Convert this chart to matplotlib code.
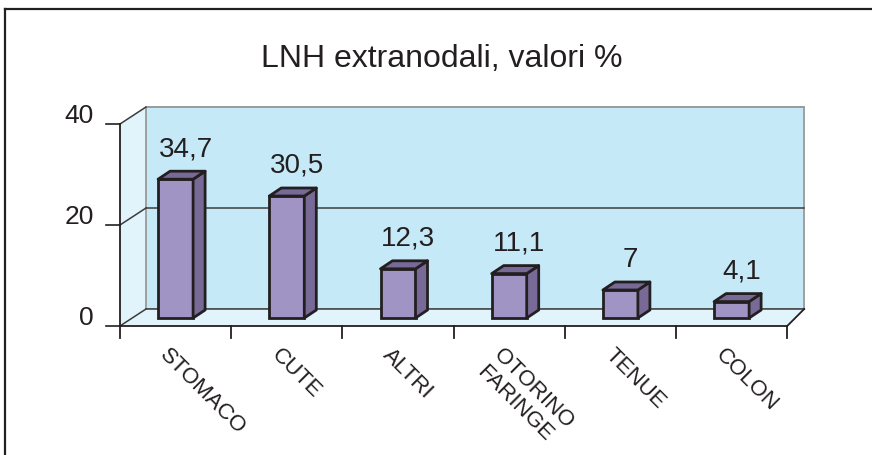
import matplotlib
matplotlib.use("Agg")
import matplotlib.pyplot as plt
from matplotlib.patches import Polygon
import numpy as np

# --- data ---
categories = ["STOMACO", "CUTE", "ALTRI", "OTORINO\nFARINGE", "TENUE", "COLON"]
values = [34.7, 30.5, 12.3, 11.1, 7, 4.1]
value_labels = ["34,7", "30,5", "12,3", "11,1", "7", "4,1"]
tick_labels = ["0", "20", "40"]
title = "LNH extranodali, valori %"

# --- layout (pixels of the 872x455 picture) ---
W, H = 872, 455
PX_X = 111.2          # px per category
PX_Y = 4.0            # px per value unit
X0_PX, Y0_PX = 120, 326   # front-left-bottom corner of the plot box
WALL_TOP = 50.5       # wall height in value units

def px_x(p):
    return p / PX_X

def px_y(p):
    return p / PX_Y

ink = "#231f20"
bar_front = "#a094c4"
bar_side = "#786a96"
back_col = "#c6e9f8"
pale_col = "#e1f3fb"

plt.rcParams["font.family"] = ["Liberation Sans", "DejaVu Sans"]

fig = plt.figure(figsize=(W / 100, H / 100), dpi=100)
ax = fig.add_axes([0, 0, 1, 1])
ax.set_xlim(-0.5 - px_x(X0_PX), -0.5 + px_x(W - X0_PX))
ax.set_ylim(-px_y(H - Y0_PX), px_y(Y0_PX))
ax.axis("off")

n = len(categories)
xl, xr = -0.5, n - 0.5
bl = xl + px_x(26)       # back wall left
br = xr + px_x(17)       # back wall right
dz = px_y(17)            # wall depth (vertical shift)

# walls and floor
ax.add_patch(Polygon([(xl, 0), (xl, WALL_TOP), (bl, WALL_TOP + dz), (bl, dz)],
                     closed=True, fc=pale_col, ec="none", zorder=1))
ax.add_patch(Polygon([(bl, dz), (bl, WALL_TOP + dz), (br, WALL_TOP + dz), (br, dz)],
                     closed=True, fc=back_col, ec="#9a9a9a", lw=1.3, zorder=1))
ax.add_patch(Polygon([(xl, 0), (xr, 0), (br, dz), (bl, dz)],
                     closed=True, fc=pale_col, ec="none", zorder=1))

# gridlines on the walls
ytick_pos = np.linspace(0, WALL_TOP, len(tick_labels))
for k, t in enumerate(ytick_pos):
    col = "#9a9a9a" if k == len(ytick_pos) - 1 else "#3c3c3c"
    ax.plot([bl, br], [t + dz, t + dz], color=col, lw=1.1, zorder=2)
    ax.plot([xl, bl], [t, t + dz], color="#3c3c3c", lw=1.1, zorder=2)
    ax.plot([xl - px_x(14), xl], [t, t], color=ink, lw=1.2, zorder=3)
    ax.text(xl - px_x(26), t + px_y(8), tick_labels[k], ha="right", va="center",
            fontsize=19, color=ink)

# front axes lines
ax.plot([xl, xl], [0, WALL_TOP], color=ink, lw=1.3, zorder=3)
ax.plot([xl, xr], [0, 0], color=ink, lw=1.3, zorder=3)
ax.plot([xr, br], [0, dz], color=ink, lw=1.3, zorder=3)
for k in range(n + 1):
    ax.plot([xl + k, xl + k], [0, -px_y(12)], color=ink, lw=1.3, zorder=3)

# bars
x = np.arange(n)
bw = px_x(35)
base = px_y(8)
sdx, sdy = px_x(12), px_y(8)
ax.bar(x, values, width=bw, bottom=base, color=bar_front, edgecolor=ink,
       linewidth=2, zorder=4)
for xi, v in zip(x, values):
    r, l, top = xi + bw / 2, xi - bw / 2, base + v
    ax.add_patch(Polygon([(r, base), (r, top), (r + sdx, top + sdy), (r + sdx, base + sdy)],
                         closed=True, fc=bar_side, ec=ink, lw=2, joinstyle="round", zorder=4))
    ax.add_patch(Polygon([(l, top), (r, top), (r + sdx, top + sdy), (l + sdx, top + sdy)],
                         closed=True, fc=bar_side, ec=ink, lw=2, joinstyle="round", zorder=4))

# value labels
for xi, v, lab in zip(x, values, value_labels):
    ax.text(xi + px_x(10), base + v + sdy + px_y(15), lab, ha="center",
            va="baseline", fontsize=20, color=ink)

# category labels
for xi, lab in zip(x, categories):
    ax.text(xi - px_x(5), -px_y(345 - Y0_PX), lab, rotation=-45,
            rotation_mode="anchor", ha="left", va="top", multialignment="left",
            fontsize=16, color=ink)

# title
ax.text(-0.5 + px_x(442 - X0_PX), px_y(Y0_PX - 67), title, ha="center",
        va="baseline", fontsize=23, color=ink)

# outer frame (only left and top visible)
fl = -0.5 - px_x(X0_PX - 5)
ft = px_y(Y0_PX - 9)
ax.plot([fl, fl], [ft, -px_y(H - Y0_PX)], color=ink, lw=1.6, zorder=5)
ax.plot([fl, px_x(W - X0_PX) - 0.5], [ft, ft], color=ink, lw=1.6, zorder=5)

fig.savefig("out.png", dpi=100)
